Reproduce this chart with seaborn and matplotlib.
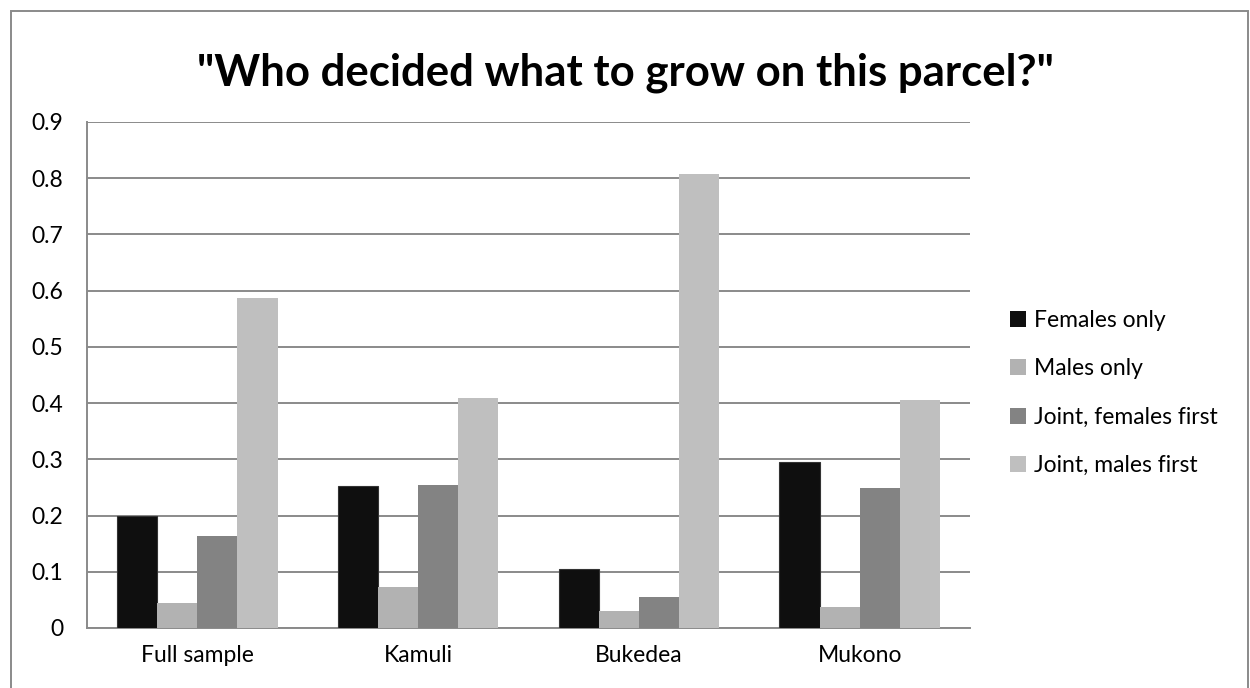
import matplotlib
matplotlib.use("Agg")
import matplotlib.pyplot as plt
import seaborn as sns
import pandas as pd
from matplotlib.patches import Rectangle

categories = ["Full sample", "Kamuli", "Bukedea", "Mukono"]
series = ["Females only", "Males only", "Joint, females first", "Joint, males first"]
females_only = [0.199, 0.252, 0.105, 0.295]
males_only = [0.045, 0.073, 0.031, 0.038]
joint_females_first = [0.163, 0.254, 0.056, 0.249]
joint_males_first = [0.587, 0.409, 0.808, 0.406]
colors = ["#0f0f0f", "#b2b2b2", "#838383", "#bfbfbf"]
yticks = [0, 0.1, 0.2, 0.3, 0.4, 0.5, 0.6, 0.7, 0.8, 0.9]

rows = []
for s, vals in zip(series, [females_only, males_only, joint_females_first, joint_males_first]):
    for c, v in zip(categories, vals):
        rows.append({"category": c, "series": s, "value": v})
df = pd.DataFrame(rows)

sns.set_theme(style="white")
plt.rcParams["font.family"] = ["Lato", "DejaVu Sans"]
plt.rcParams["text.color"] = "black"
plt.rcParams["xtick.color"] = "black"
plt.rcParams["ytick.color"] = "black"

fig = plt.figure(figsize=(12.5, 6.88), dpi=100)
ax = fig.add_axes([87/1250, 60/688, (970-87)/1250, (628-122)/688])

sns.barplot(data=df, x="category", y="value", hue="series", order=categories,
            hue_order=series, palette=colors, width=0.727, gap=0, ax=ax,
            edgecolor="none", linewidth=0, saturation=1, zorder=3)
for p in ax.patches[:4]:
    p.set_edgecolor("#333333")
    p.set_linewidth(0.8)

ax.set_ylim(0, 0.9)
ax.set_xlim(-0.5, 3.5)
ax.set_yticks(yticks)
ax.set_yticklabels([f"{t:g}" for t in yticks])
ax.yaxis.grid(True, color="#8a8a8a", linewidth=1.4, zorder=0)
ax.set_axisbelow(True)
ax.set_xlabel("")
ax.set_ylabel("")
for side in ["top", "right"]:
    ax.spines[side].set_visible(False)
for side in ["left", "bottom"]:
    ax.spines[side].set_color("#8a8a8a")
    ax.spines[side].set_linewidth(1.4)
ax.tick_params(axis="both", length=0, labelsize=16.5, colors="black")
ax.tick_params(axis="y", pad=17)
ax.tick_params(axis="x", pad=12)

handles, labels = ax.get_legend_handles_labels()
ax.legend(handles, labels, loc="center left", bbox_to_anchor=(1010/1250, (688-393)/688),
          bbox_transform=fig.transFigure, frameon=False, fontsize=16.5,
          handlelength=0.7, handleheight=0.7, handletextpad=0.35, labelspacing=1.2,
          borderaxespad=0, borderpad=0)

fig.text(0.5, (688-73)/688, "\"Who decided what to grow on this parcel?\"",
         ha="center", va="center", fontsize=31.5, fontweight="bold", color="black")

fig.patches.append(Rectangle((11/1250, -0.01), (1248-11)/1250, (688-11)/688 + 0.01,
                             transform=fig.transFigure, fill=False,
                             edgecolor="#8a8a8a", linewidth=1.4))

fig.savefig("out.png", dpi=100)
